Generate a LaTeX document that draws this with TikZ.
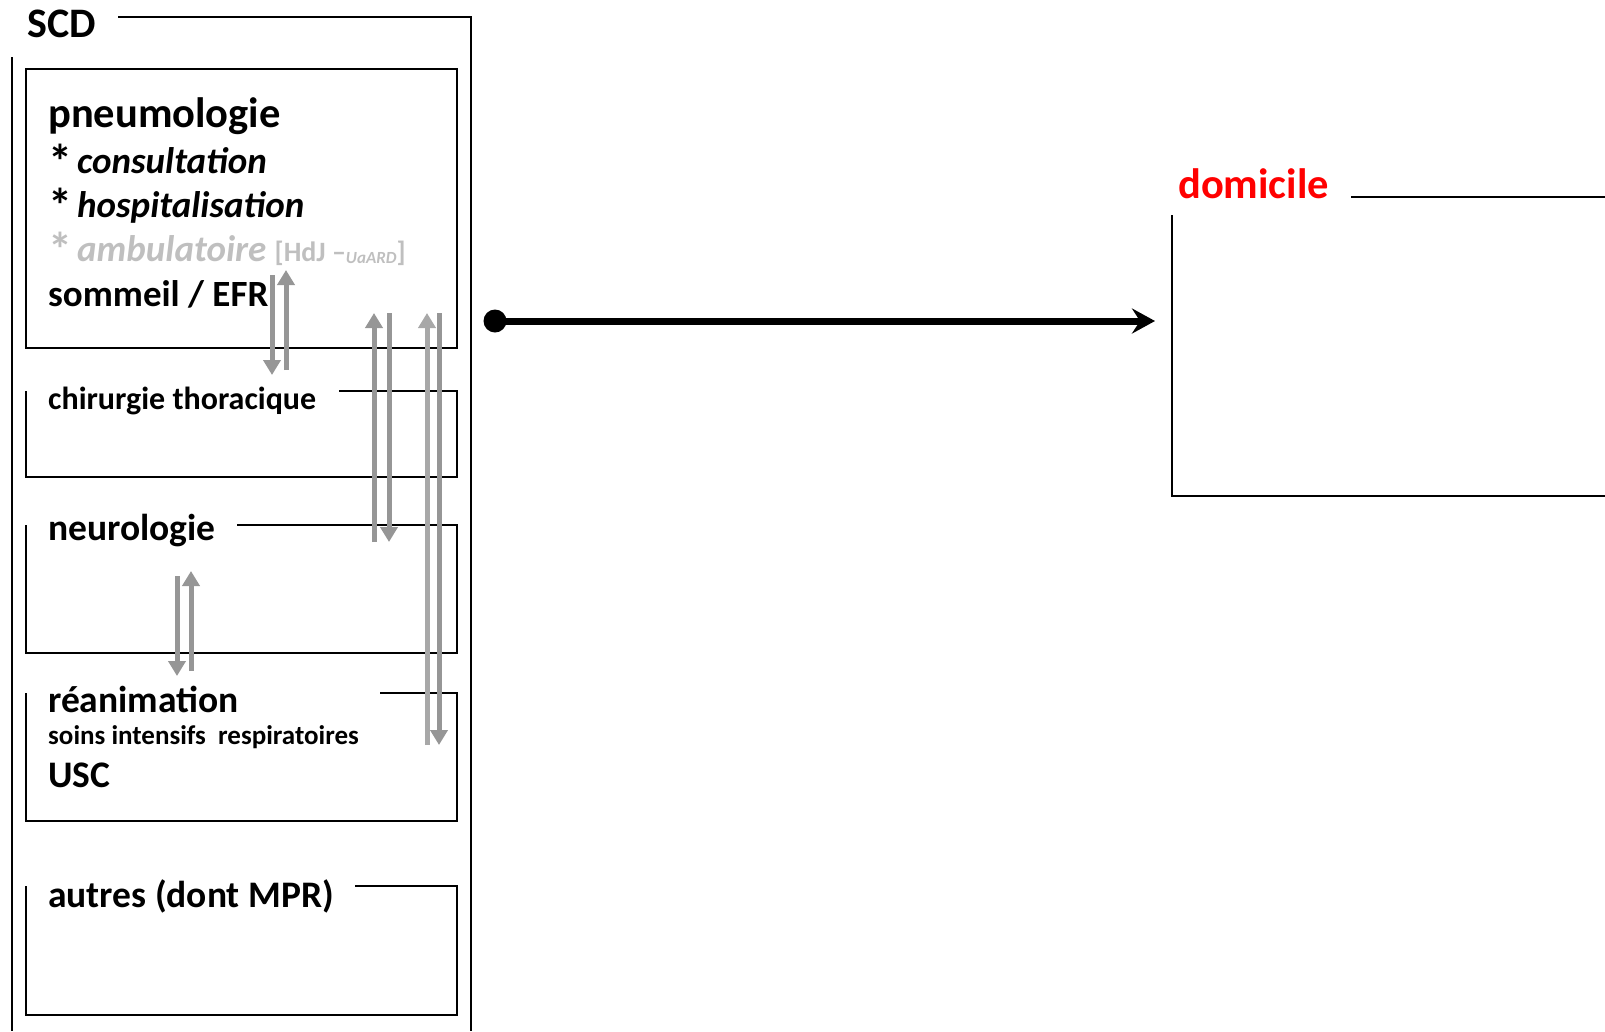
\documentclass[tikz,border=0pt]{standalone}
\usepackage{fontspec}
\setmainfont{Carlito}
\usepackage{tikz}
\usepackage{graphicx}
\usetikzlibrary{arrows.meta, positioning}

\definecolor{arrowgray}{RGB}{150,150,150}
\definecolor{arrowlight}{RGB}{168,168,168}
\definecolor{ambugray}{RGB}{191,191,191}
\definecolor{domred}{RGB}{255,0,0}

\newcommand{\puce}{\raisebox{-5pt}{\scalebox{1.3}{*}}\hspace{5pt}}

\begin{document}
\begin{tikzpicture}[
        x=1pt, y=-1pt,
        frame/.style={line width=1.7pt, black},
        lbl/.style={anchor=base west, inner sep=0pt, font=\bfseries},
        subfont/.style={font=\bfseries\fontsize{37}{44}\selectfont},
        midfont/.style={font=\bfseries\fontsize{37.5}{44}\selectfont},
        garrow/.style={-{Triangle[width=17pt,length=15pt]}, line width=5pt, arrowgray},
        mainarrow/.style={-{Stealth[length=23pt,width=25pt,inset=8pt]}, line width=7pt, black}
    ]
    \useasboundingbox (0,0) rectangle (1605,1031);

    % SCD frame
    \node[lbl, font=\bfseries\fontsize{42}{48}\selectfont] (scd) at (27,37) {SCD};
    \draw[frame] (118,17) -- (471,17) -- (471,1031);
    \draw[frame] (12,57) -- (12,1031);

    % pneumologie
    \draw[frame] (26,69) rectangle (457,348);
    \node[lbl, font=\bfseries\fontsize{42.5}{48}\selectfont] (pneumo) at (48,127) {pneumologie};
    \node[lbl, subfont] (consult) at (48,173) {\puce\textit{consultation}};
    \node[lbl, subfont] (hospit) at (48,217) {\puce\textit{hospitalisation}};
    \node[lbl, subfont, text=ambugray] (ambu) at (48,261)
        {\puce\textit{ambulatoire} {\fontsize{28}{32}\selectfont[HdJ --\raisebox{-2pt}{\fontsize{17}{20}\selectfont\textit{UaARD}}]}};
    \node[lbl, subfont] (sommeil) at (48,306) {sommeil / EFR};

    % chirurgie thoracique
    \node[lbl, font=\bfseries\fontsize{32}{38}\selectfont] (chir) at (48,409) {chirurgie thoracique};
    \draw[frame] (339,391) -- (457,391) -- (457,477) -- (26,477) -- (26,391);

    % neurologie
    \node[lbl, midfont] (neuro) at (48,540) {neurologie};
    \draw[frame] (237,525) -- (457,525) -- (457,653) -- (26,653) -- (26,525);

    % reanimation
    \node[lbl, midfont] (rea) at (48,712) {réanimation};
    \node[lbl, font=\bfseries\fontsize{27}{32}\selectfont] (soins) at (48,744) {soins intensifs~~respiratoires};
    \node[lbl, midfont] (usc) at (48,787) {USC};
    \draw[frame] (380,693) -- (457,693) -- (457,821) -- (26,821) -- (26,693);

    % autres
    \node[lbl, midfont] (autres) at (48,907) {autres (dont MPR)};
    \draw[frame] (355,886) -- (457,886) -- (457,1015) -- (26,1015) -- (26,886);

    % domicile
    \node[lbl, font=\bfseries\fontsize{42.5}{48}\selectfont, text=domred] (dom) at (1178,198) {domicile};
    \draw[frame] (1351,197) -- (1605,197);
    \draw[frame] (1172,215) -- (1172,496) -- (1605,496);

    % transfers between services
    \draw[garrow] (272,275) -- (272,375);
    \draw[garrow] (286,370) -- (286,270);
    \draw[garrow] (374,542) -- (374,313);
    \draw[garrow] (389,313) -- (389,542);
    \draw[garrow, arrowlight] (427,745) -- (427,313);
    \draw[garrow] (439,313) -- (439,745);
    \draw[garrow] (177,576) -- (177,676);
    \draw[garrow] (191,671) -- (191,571);

    % sortie vers domicile
    \node[circle, fill=black, inner sep=0pt, minimum size=23pt] (start) at (495,321) {};
    \coordinate (domin) at (1155,321);
    \draw[mainarrow] (start.center) -- (domin);

\end{tikzpicture}
\end{document}
